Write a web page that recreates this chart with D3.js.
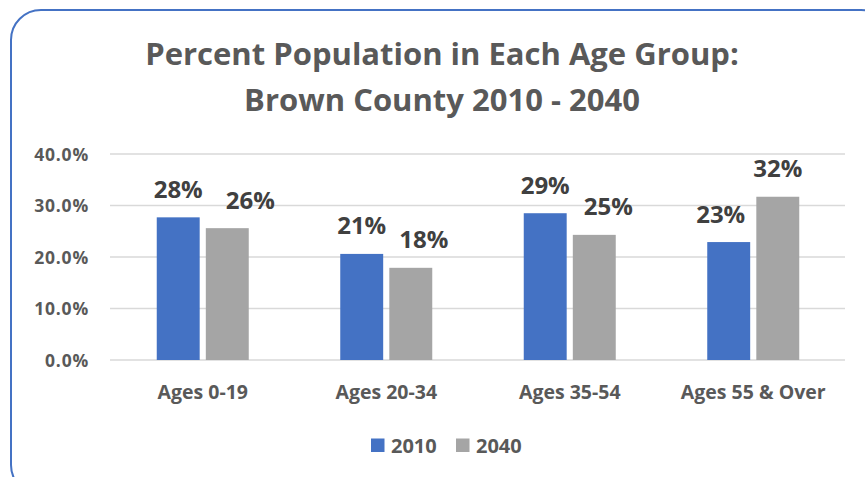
<!DOCTYPE html>
<html><head><meta charset="utf-8">
<script src="https://cdn.jsdelivr.net/npm/d3@7"></script>
<style>body{margin:0;background:#fff;}svg{display:block;}</style>
</head><body>
<script>
const categories = ["Ages 0-19", "Ages 20-34", "Ages 35-54", "Ages 55 & Over"];
const seriesNames = ["2010", "2040"];
const values2010 = [27.7, 20.6, 28.5, 22.9];
const values2040 = [25.6, 17.9, 24.3, 31.7];
const labels2010 = ["28%", "21%", "29%", "23%"];
const labels2040 = ["26%", "18%", "25%", "32%"];
// horizontal nudges of the data labels as placed in the original chart
const labelNudge2010 = [0, 0, 0, -8];
const labelNudge2040 = [23, 13, 14, 0];
const yTicks = [0, 10, 20, 30, 40];
const colors = ["#4472C4", "#A5A5A5"];

const W = 865, H = 477;
const svg = d3.select("body").append("svg").attr("width", W).attr("height", H);
const font = "'Open Sans', sans-serif";

svg.append("rect").attr("x", 11).attr("y", 10).attr("width", 880).attr("height", 485)
  .attr("rx", 30).attr("fill", "#fff").attr("stroke", "#4472C4").attr("stroke-width", 2);

const title = svg.append("text").attr("text-anchor", "middle").attr("font-family", font)
  .attr("font-weight", "bold").attr("font-size", 31).attr("fill", "#595959");
title.append("tspan").attr("x", 442).attr("y", 65).text("Percent Population in Each Age Group:");
title.append("tspan").attr("x", 442).attr("y", 111).text("Brown County 2010 - 2040");

const x0 = d3.scaleBand().domain(categories).range([111, 845]);
const x1 = d3.scaleBand().domain(seriesNames).range([0, 92]).paddingInner(0.125);
const y = d3.scaleLinear().domain([0, 40]).range([360, 154]);

const g = svg.append("g");
g.selectAll(".grid").data(yTicks).join("line")
  .attr("x1", 110).attr("x2", 845).attr("y1", d => y(d)).attr("y2", d => y(d))
  .attr("stroke", "#d9d9d9").attr("stroke-width", 1.5);

g.selectAll(".ytl").data(yTicks).join("text")
  .attr("x", 89).attr("y", d => y(d) + 6.5).attr("text-anchor", "end")
  .attr("font-family", font).attr("font-weight", "bold").attr("font-size", 17.5)
  .attr("letter-spacing", 0.8)
  .attr("fill", "#595959").text(d => d.toFixed(1) + "%");

const series = [values2010, values2040];
const labs = [labels2010, labels2040];
const nudges = [labelNudge2010, labelNudge2040];
seriesNames.forEach((s, si) => {
  const off = x0.bandwidth() / 2 - 46;
  g.selectAll(".bar" + si).data(categories).join("rect")
    .attr("x", c => x0(c) + off + x1(s))
    .attr("width", x1.bandwidth())
    .attr("y", (c, i) => y(series[si][i]))
    .attr("height", (c, i) => y(0) - y(series[si][i]))
    .attr("fill", colors[si]);
  g.selectAll(".lab" + si).data(categories).join("text")
    .attr("x", (c, i) => x0(c) + off + x1(s) + x1.bandwidth() / 2 + nudges[si][i])
    .attr("y", (c, i) => y(series[si][i]) - 19.5)
    .attr("text-anchor", "middle").attr("font-family", font).attr("font-weight", "bold")
    .attr("font-size", 24).attr("fill", "#404040").text((c, i) => labs[si][i]);
});

g.selectAll(".xl").data(categories).join("text")
  .attr("x", c => x0(c) + x0.bandwidth() / 2).attr("y", 399)
  .attr("text-anchor", "middle").attr("font-family", font).attr("font-weight", "bold")
  .attr("font-size", 19.5).attr("fill", "#595959").text(c => c);

const legX = [371, 456];
seriesNames.forEach((s, i) => {
  svg.append("rect").attr("x", legX[i]).attr("y", 438.5).attr("width", 13.5).attr("height", 13.5).attr("fill", colors[i]);
  svg.append("text").attr("x", legX[i] + 20).attr("y", 452.5).attr("font-family", font)
    .attr("font-weight", "bold").attr("font-size", 20).attr("fill", "#595959").text(s);
});
</script>
</body></html>
